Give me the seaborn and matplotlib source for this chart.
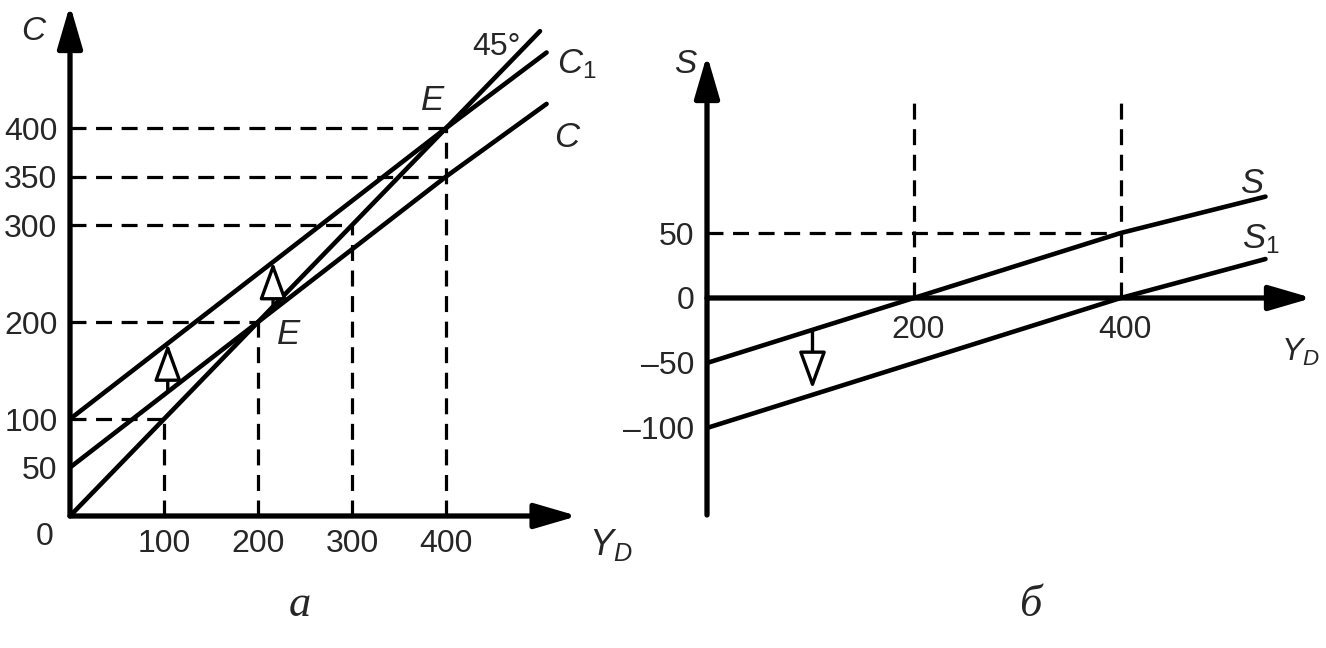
"""Функция потребления и функция сбережений: сдвиг автономного потребления."""

import matplotlib.pyplot as plt
import seaborn as sns

# --- данные ---
YD_LEFT = [0, 100, 200, 300, 400, 507]
C_VALUES = [50, 125, 200, 275, 350, 425]
C1_VALUES = [100, 175, 250, 325, 400, 478]
YD_45 = [0, 500]
LINE_45 = [0, 500]

C_TICKS = [50, 100, 200, 300, 350, 400]
YD_TICKS_LEFT = [100, 200, 300, 400]
H_LEVELS = [100, 200, 300, 350, 400]
H_ENDS = [100, 200, 300, 400, 400]
V_POS = [100, 200, 300, 400]
V_TOPS = [100, 200, 300, 400]
SHIFT_X_LEFT = [104, 216]

YD_RIGHT = [0, 200, 400, 540]
S_VALUES = [-50, 0, 50, 78]
S1_VALUES = [-100, -50, 0, 30]
S_TICKS = [-100, -50, 0, 50]
S_TICK_LABELS = ["–100", "–50", "0", "50"]
YD_TICKS_RIGHT = [200, 400]
SHIFT_X_RIGHT = 102
SHIFT_S_FROM = -24.5
SHIFT_S_TO = -70

sns.set_theme(style="white")
plt.rcParams.update({
    "font.family": ["Liberation Sans", "DejaVu Sans"],
    "mathtext.fontset": "custom",
    "mathtext.it": "Liberation Sans:italic",
    "mathtext.rm": "Liberation Sans",
})

FS = 23
LW = 3.3
DASH = (0, (5, 3))
AXIS_ARROW = dict(arrowstyle="-|>,head_length=1.3,head_width=0.38",
                  color="black", lw=3.8, mutation_scale=20,
                  shrinkA=0, shrinkB=0)
SHIFT_ARROW = dict(arrowstyle="-|>,head_length=1.15,head_width=0.42",
                   fc="white", ec="black", lw=2.4, mutation_scale=20,
                   shrinkA=0, shrinkB=0)


def value_at(xs, ys, x):
    """Линейная интерполяция значения линии в точке x (для стрелок сдвига)."""
    for (xa, ya), (xb, yb) in zip(zip(xs, ys), zip(xs[1:], ys[1:])):
        if xa <= x <= xb:
            return ya + (yb - ya) * (x - xa) / (xb - xa)
    return ys[-1]


fig = plt.figure(figsize=(13.26, 6.48), dpi=100)
ax_c = fig.add_axes([70 / 1326, 132 / 648, 507.6 / 1326, 511 / 648])
ax_s = fig.add_axes([707 / 1326, 133 / 648, 605 / 1326, 460 / 648])

for ax in (ax_c, ax_s):
    for spine in ax.spines.values():
        spine.set_visible(False)
    ax.patch.set_alpha(0)
    ax.tick_params(length=0, labelsize=FS)

# --- левый график: функция потребления ---
ax_c.set_xlim(0, 540)
ax_c.set_ylim(0, 527)

for level, end in zip(H_LEVELS, H_ENDS):
    ax_c.plot([0, end], [level, level], color="black", lw=2.3, ls=DASH)
for pos, top in zip(V_POS, V_TOPS):
    ax_c.plot([pos, pos], [0, top], color="black", lw=2.3, ls=DASH)

sns.lineplot(x=YD_45, y=LINE_45, color="black", lw=LW, ax=ax_c)
sns.lineplot(x=YD_LEFT, y=C_VALUES, color="black", lw=LW, ax=ax_c)
sns.lineplot(x=YD_LEFT, y=C1_VALUES, color="black", lw=LW, ax=ax_c)

for x in SHIFT_X_LEFT:
    y0 = value_at(YD_LEFT, C_VALUES, x)
    y1 = value_at(YD_LEFT, C1_VALUES, x)
    ax_c.annotate("", xy=(x, y1), xytext=(x, y0), arrowprops=SHIFT_ARROW,
                  annotation_clip=False)

ax_c.annotate("", xy=(0, 527), xytext=(0, 0), arrowprops=AXIS_ARROW,
              annotation_clip=False)
ax_c.annotate("", xy=(540, 0), xytext=(0, 0), arrowprops=AXIS_ARROW,
              annotation_clip=False)

ax_c.set_yticks(C_TICKS)
ax_c.set_xticks(YD_TICKS_LEFT)
ax_c.tick_params(axis="y", pad=9)
ax_c.tick_params(axis="x", pad=9)

ax_c.text(-27, -22, "0", fontsize=FS, ha="center", va="center")
ax_c.text(-39, 500, "C", fontsize=FS + 1, style="italic", ha="center", va="center")
ax_c.text(454, 484, "45°", fontsize=FS, ha="center", va="center")
ax_c.text(518, 466, "$C_1$", fontsize=FS + 2, ha="left", va="center")
ax_c.text(515, 390, "C", fontsize=FS + 2, style="italic", ha="left", va="center")
ax_c.text(386, 428, "E", fontsize=FS + 2, style="italic", ha="center", va="center")
ax_c.text(232, 187, "E", fontsize=FS + 2, style="italic", ha="center", va="center")
ax_c.text(552, -30, "$Y_D$", fontsize=FS + 3, ha="left", va="center")

# --- правый график: функция сбережений ---
ax_s.set_xlim(0, 585)
ax_s.set_ylim(-167, 187)

ax_s.plot([0, 400], [50, 50], color="black", lw=2.3, ls=DASH)
for pos in YD_TICKS_RIGHT:
    ax_s.plot([pos, pos], [0, 157], color="black", lw=2.3, ls=DASH)

sns.lineplot(x=YD_RIGHT, y=S_VALUES, color="black", lw=LW, ax=ax_s)
sns.lineplot(x=YD_RIGHT, y=S1_VALUES, color="black", lw=LW, ax=ax_s)

ax_s.annotate("", xy=(SHIFT_X_RIGHT, SHIFT_S_TO),
              xytext=(SHIFT_X_RIGHT, SHIFT_S_FROM), arrowprops=SHIFT_ARROW)

ax_s.annotate("", xy=(0, 187), xytext=(0, -167), arrowprops=AXIS_ARROW,
              annotation_clip=False)
ax_s.annotate("", xy=(585, 0), xytext=(0, 0), arrowprops=AXIS_ARROW,
              annotation_clip=False)

ax_s.set_yticks(S_TICKS)
ax_s.set_yticklabels(S_TICK_LABELS)
ax_s.tick_params(axis="y", pad=9)
ax_s.set_xticks([])
for pos in YD_TICKS_RIGHT:
    ax_s.text(pos + 4, -25, str(pos), fontsize=FS, ha="center", va="center")

ax_s.text(-21, 180, "S", fontsize=FS + 1, style="italic", ha="center", va="center")
ax_s.text(527, 88, "S", fontsize=FS + 2, style="italic", ha="center", va="center")
ax_s.text(517, 45, "$S_1$", fontsize=FS + 2, ha="left", va="center")
ax_s.text(555, -42, "$Y_D$", fontsize=FS, ha="left", va="center")

fig.text(300 / 1326, 1 - 605 / 648, "а", fontsize=32, style="italic",
         family="Liberation Serif", ha="center", va="center")
fig.text(1030 / 1326, 1 - 605 / 648, "б", fontsize=32, style="italic",
         family="Liberation Serif", ha="center", va="center")

fig.savefig("out.png", dpi=100)
plt.close(fig)
